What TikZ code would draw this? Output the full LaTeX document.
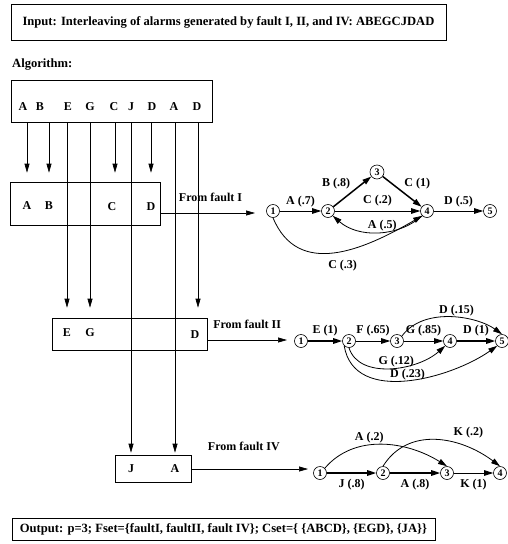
\documentclass[tikz,border=0pt]{standalone}
\usepackage{fontspec}
\setmainfont{Liberation Serif}
\usetikzlibrary{arrows.meta, positioning, calc}

\begin{document}
\begin{tikzpicture}[x=1pt, y=-1pt,
  frame/.style={draw, line width=0.6pt, inner sep=0pt},
  txt/.style={font=\bfseries\fontsize{12.6}{14}\selectfont, inner sep=0pt},
  sym/.style={font=\bfseries\fontsize{12}{14}\selectfont, inner sep=0pt},
  lbl/.style={font=\bfseries\fontsize{12}{14}\selectfont, inner sep=1.5pt},
  st/.style={draw, circle, line width=0.6pt, inner sep=0pt, minimum size=13pt,
    font=\bfseries\fontsize{10}{10}\selectfont},
  feed/.style={-{Triangle[length=9pt, width=5pt]}, line width=0.6pt},
  tr/.style={-{Triangle[length=9pt, width=5.5pt]}, line width=0.8pt},
  trb/.style={tr, line width=1.5pt}
]
\useasboundingbox (0,0) rectangle (507,544);

% ============ INPUT / ALGORITHM ============
\node[frame, minimum width=435pt, minimum height=36pt] (inbox) at (228.5,22) {};
\node[txt] (intext) at (inbox.center)
  {Input: Interleaving of alarms generated by fault I, II, and IV: ABEGCJDAD};
\node[txt, anchor=west] (algo) at (12,65) {Algorithm:};

% sequence of alarms
\node[frame, minimum width=201pt, minimum height=42pt] (seq) at (111.5,101) {};
\node[sym] (s1) at (23,107) {A};
\node[sym] (s2) at (40,107) {B};
\node[sym] (s3) at (68,107) {E};
\node[sym] (s4) at (90,107) {G};
\node[sym] (s5) at (114,107) {C};
\node[sym] (s6) at (131,107) {J};
\node[sym] (s7) at (152,107) {D};
\node[sym] (s8) at (174,107) {A};
\node[sym] (s9) at (197,107) {D};

% ============ FAULT I ============
\node[frame, minimum width=150pt, minimum height=43pt] (boxI) at (85,203.5) {};
\node[sym] (ia) at (27,206) {A};
\node[sym] (ib) at (49,206) {B};
\node[sym] (ic) at (112,207) {C};
\node[sym] (id) at (151,207) {D};

% ============ FAULT II ============
\node[frame, minimum width=155pt, minimum height=32pt] (boxII) at (129.5,334) {};
\node[sym] (iie) at (67,333) {E};
\node[sym] (iig) at (90,333) {G};
\node[sym] (iid) at (195,335) {D};

% ============ FAULT IV ============
\node[frame, minimum width=76pt, minimum height=27pt] (boxIV) at (153,468.5) {};
\node[sym] (ivj) at (131,469) {J};
\node[sym] (iva) at (175,469) {A};

% alarms routed to their fault boxes
\draw[feed, shorten >=9pt] (ia |- seq.south) -- (ia |- boxI.north);
\draw[feed, shorten >=9pt] (ib |- seq.south) -- (ib |- boxI.north);
\draw[feed, shorten >=9pt] (115,0 |- seq.south) -- (115,0 |- boxI.north);
\draw[feed, shorten >=9pt] (id |- seq.south) -- (id |- boxI.north);
\draw[feed, shorten >=10pt] (iie |- seq.south) -- (iie |- boxII.north);
\draw[feed, shorten >=10pt] (iig |- seq.south) -- (iig |- boxII.north);
\draw[feed, shorten >=10pt] (198,0 |- seq.south) -- (198,0 |- boxII.north);
\draw[feed, shorten >=2pt] (ivj |- seq.south) -- (ivj |- boxIV.north);
\draw[feed, shorten >=2pt] (iva |- seq.south) -- (iva |- boxIV.north);

% outputs of the fault boxes
\coordinate (outI) at (255,213);
\coordinate (outII) at (287,340);
\coordinate (outIV) at (308,469);
\draw[feed] (boxI.east |- outI) -- (outI)
  node[lbl, pos=0.53, above=10pt] (fromI) {From fault I};
\draw[feed] (boxII.east |- outII) -- (outII)
  node[lbl, pos=0.5, above=10pt] (fromII) {From fault II};
\draw[feed] (boxIV.east |- outIV) -- (outIV)
  node[lbl, pos=0.45, above=17pt] (fromIV) {From fault IV};

% ============ GRAPH I ============
\node[st] (g1a) at (273,211) {1};
\node[st] (g1b) at (328,211) {2};
\node[st, minimum size=14pt] (g1c) at (377,172) {3};
\node[st] (g1d) at (427,211) {4};
\node[st] (g1e) at (490,211) {5};

\draw[tr] (g1a) -- (g1b) node[lbl, midway, above=2pt] {A (.7)};
\draw[trb] (g1b) -- (g1c) node[lbl, midway, above left=0pt] {B (.8)};
\draw[trb] (g1c) -- (g1d) node[lbl, midway, above right=0pt] {C (1)};
\draw[tr] (g1b) -- (g1d) node[lbl, midway, above=3pt] {C (.2)};
\draw[tr] (g1d) -- (g1e) node[lbl, midway, above=2pt] {D (.5)};
\draw[tr] (g1d.south west) .. controls +(-25,22) and +(25,22) .. (g1b.south east)
  node[lbl, pos=0.45, above=-1pt] {A (.5)};
\draw[tr] (g1a.south) .. controls +(25,60) and +(-60,35) .. (g1d.south west)
  node[lbl, pos=0.55, below=7pt] {C (.3)};

% ============ GRAPH II ============
\node[st] (g2a) at (301,341) {1};
\node[st] (g2b) at (349,341) {2};
\node[st] (g2c) at (397,341) {3};
\node[st] (g2d) at (450,341) {4};
\node[st] (g2e) at (502,341) {5};

\draw[trb] (g2a) -- (g2b) node[lbl, midway, above=3pt] {E (1)};
\draw[tr] (g2b) -- (g2c) node[lbl, midway, above=3pt] {F (.65)};
\draw[tr] (g2c) -- (g2d) node[lbl, midway, above=3pt] {G (.85)};
\draw[trb] (g2d) -- (g2e) node[lbl, midway, above=3pt] {D (1)};
\draw[tr] (g2c.north east) .. controls +(22,-30) and +(-25,-18) .. (g2e.north)
  node[lbl, pos=0.55, above=0pt] {D (.15)};
\draw[tr] (g2b.south) .. controls +(10,32) and +(-28,25) .. (g2d.south west)
  node[lbl, pos=0.55, above=-1pt] {G (.12)};
\draw[tr] (g2b.south west) .. controls +(10,60) and +(-45,32) .. (g2e.south west)
  node[lbl, pos=0.5, above=-2pt] {D (.23)};

% ============ GRAPH IV ============
\node[st] (g4a) at (320,473) {1};
\node[st] (g4b) at (383,473) {2};
\node[st] (g4c) at (447,473) {3};
\node[st] (g4d) at (500,473) {4};

\draw[trb] (g4a) -- (g4b) node[lbl, midway, below=4pt] {J (.8)};
\draw[trb] (g4b) -- (g4c) node[lbl, midway, below=4pt] {A (.8)};
\draw[tr] (g4c) -- (g4d) node[lbl, midway, below=4pt] {K (1)};
\draw[tr] (g4a.north east) .. controls +(30,-35) and +(-40,-25) .. (g4c.north)
  node[lbl, pos=0.4, above=0pt] {A (.2)};
\draw[tr] (g4b.north) .. controls +(25,-40) and +(-40,-30) .. (g4d.north)
  node[lbl, pos=0.75, above=8pt] {K (.2)};

% ============ OUTPUT ============
\node[frame, minimum width=423pt, minimum height=22pt] (outbox) at (223.5,529.5) {};
\node[txt] (outtext) at (outbox.center)
  {Output: p=3; Fset=\{faultI, faultII, fault IV\}; Cset=\{ \{ABCD\}, \{EGD\}, \{JA\}\}};

\end{tikzpicture}
\end{document}
